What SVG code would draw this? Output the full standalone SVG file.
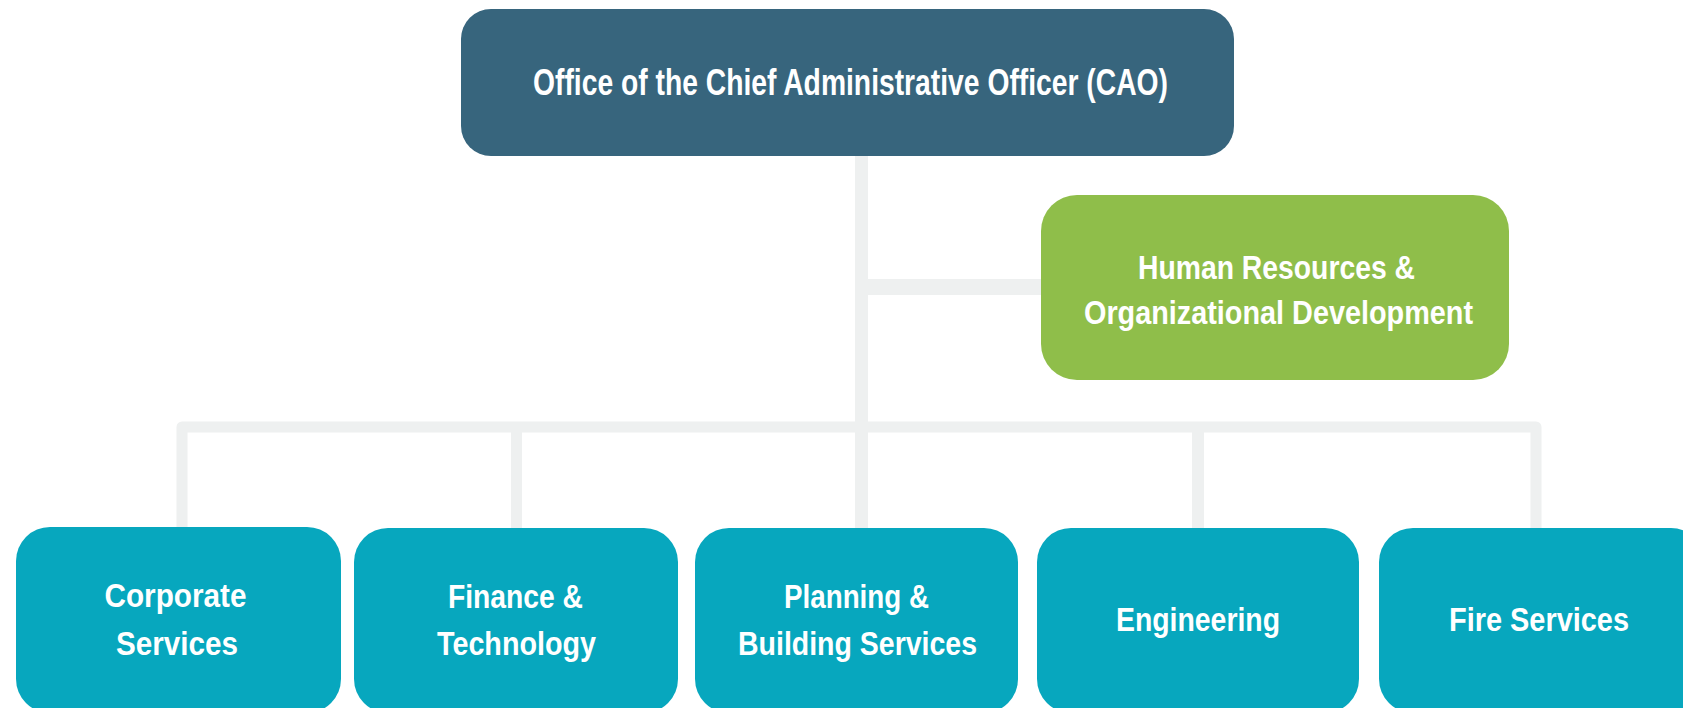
<svg xmlns="http://www.w3.org/2000/svg" width="1683" height="708" viewBox="0 0 1683 708">
  <style>
    .conn { fill: none; stroke: #eef0f0; stroke-linejoin: round; }
    .box-top { fill: #37657d; }
    .box-hr { fill: #8fbe4a; }
    .box-dept { fill: #07a7be; }
    .lbl { font-family: "Liberation Sans", Arial, sans-serif; font-weight: bold; fill: #ffffff; text-anchor: middle; font-size: 34px; }
    .lbl-top { font-size: 36px; }
  </style>
  <rect x="0" y="0" width="1683" height="708" fill="#ffffff"/>
  <g id="connectors">
    <path class="conn" stroke-width="13" d="M861.5,150 V530"/>
    <path class="conn" stroke-width="16" d="M861.5,287 H1045"/>
    <path class="conn" stroke-width="11" d="M182,530 V427 H1536 V530"/>
    <path class="conn" stroke-width="11" d="M516.5,427 V530"/>
    <path class="conn" stroke-width="12" d="M1198,427 V530"/>
  </g>
  <g id="node-cao">
    <rect class="box-top" x="461" y="9" width="773" height="147" rx="30" ry="30"/>
    <text class="lbl lbl-top" x="850.5" y="95" textLength="635" lengthAdjust="spacingAndGlyphs">Office of the Chief Administrative Officer (CAO)</text>
  </g>
  <g id="node-hr">
    <rect class="box-hr" x="1041" y="195" width="468" height="185" rx="36" ry="36"/>
    <text class="lbl" x="1276.5" y="279" textLength="277" lengthAdjust="spacingAndGlyphs">Human Resources &amp;</text>
    <text class="lbl" x="1278.5" y="324" textLength="389" lengthAdjust="spacingAndGlyphs">Organizational Development</text>
  </g>
  <g id="node-corporate">
    <rect class="box-dept" x="16" y="527" width="325" height="186" rx="34" ry="34"/>
    <text class="lbl" x="175.5" y="607" textLength="142" lengthAdjust="spacingAndGlyphs">Corporate</text>
    <text class="lbl" x="177" y="655" textLength="122" lengthAdjust="spacingAndGlyphs">Services</text>
  </g>
  <g id="node-finance">
    <rect class="box-dept" x="354" y="528" width="324" height="185" rx="34" ry="34"/>
    <text class="lbl" x="515.5" y="608" textLength="135" lengthAdjust="spacingAndGlyphs">Finance &amp;</text>
    <text class="lbl" x="516.5" y="655" textLength="159" lengthAdjust="spacingAndGlyphs">Technology</text>
  </g>
  <g id="node-planning">
    <rect class="box-dept" x="695" y="528" width="323" height="185" rx="34" ry="34"/>
    <text class="lbl" x="856.5" y="608" textLength="145" lengthAdjust="spacingAndGlyphs">Planning &amp;</text>
    <text class="lbl" x="857.5" y="655" textLength="239" lengthAdjust="spacingAndGlyphs">Building Services</text>
  </g>
  <g id="node-engineering">
    <rect class="box-dept" x="1037" y="528" width="322" height="185" rx="34" ry="34"/>
    <text class="lbl" x="1198" y="631" textLength="164" lengthAdjust="spacingAndGlyphs">Engineering</text>
  </g>
  <g id="node-fire">
    <rect class="box-dept" x="1379" y="528" width="326" height="185" rx="34" ry="34"/>
    <text class="lbl" x="1539" y="631" textLength="180" lengthAdjust="spacingAndGlyphs">Fire Services</text>
  </g>
</svg>
